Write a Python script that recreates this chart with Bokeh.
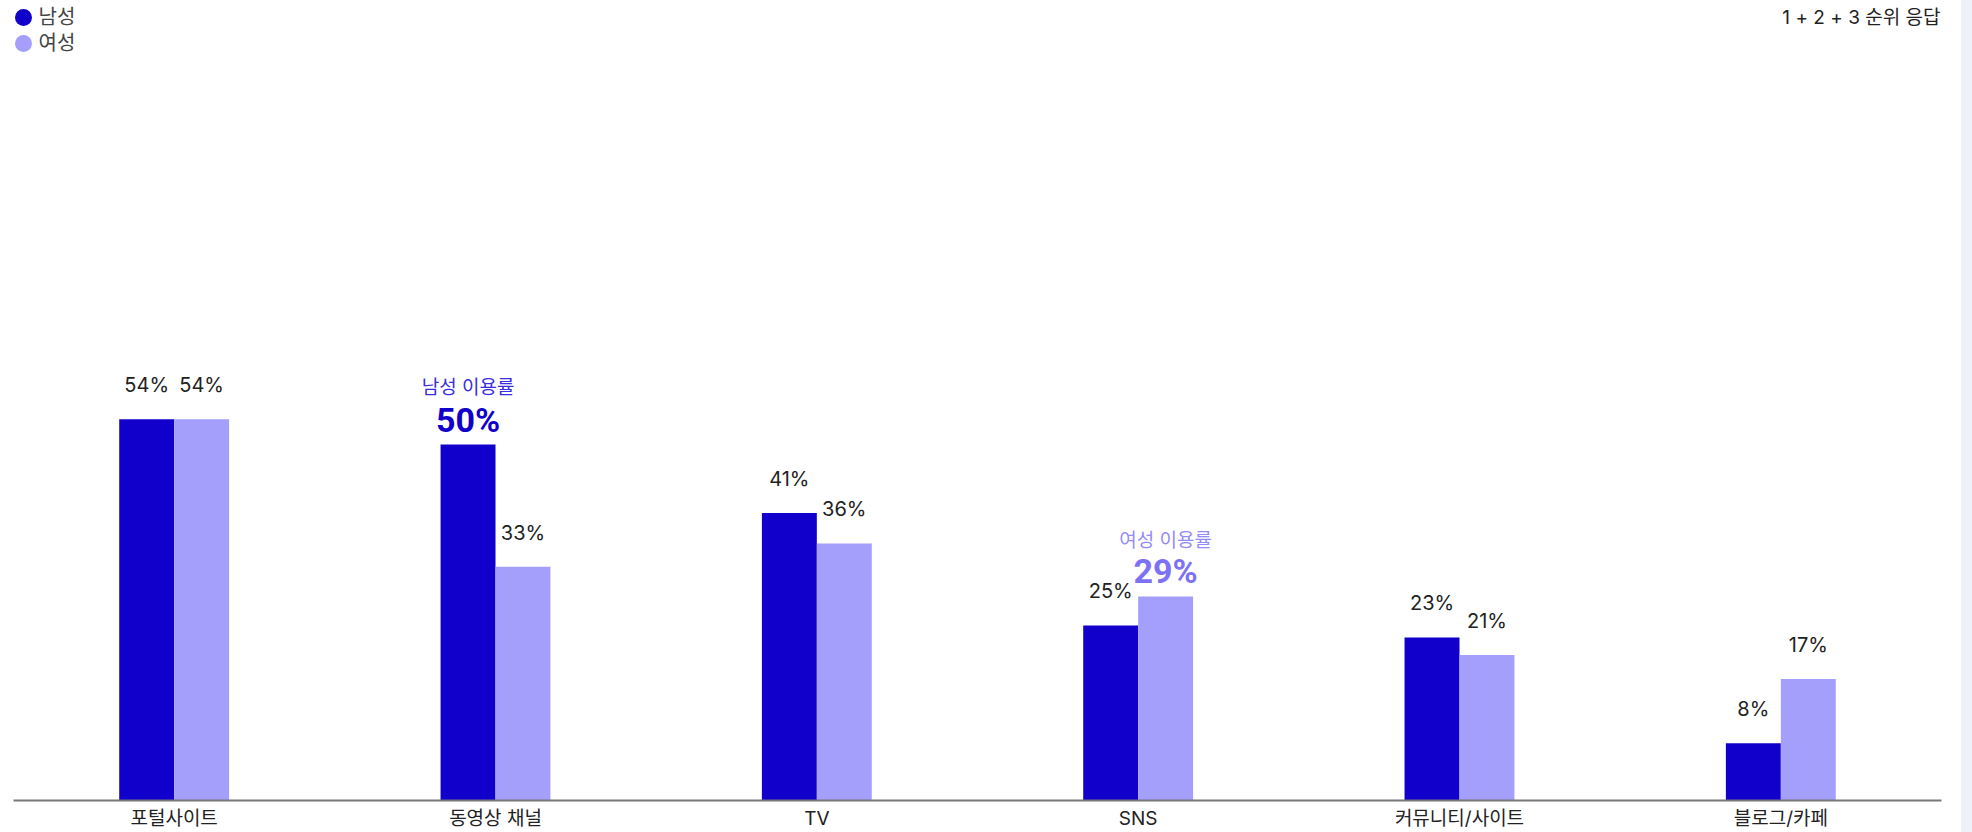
from bokeh.plotting import figure
from bokeh.models import (ColumnDataSource, Range1d, Spacer, FixedTicker)
from bokeh.layouts import row
from bokeh.transform import dodge
from bokeh.core.properties import value
from bokeh.embed import file_html
from bokeh.resources import INLINE

# ---- data ----
categories = ["포털사이트", "동영상 채널", "TV", "SNS", "커뮤니티/사이트", "블로그/카페"]
male = [54.0, 50.4, 40.7, 24.8, 23.1, 8.1]
female = [54.0, 33.1, 36.4, 28.9, 20.6, 17.2]
series_names = ["남성", "여성"]
male_highlight = "동영상 채널"
female_highlight = "SNS"
male_note = "남성 이용률"
female_note = "여성 이용률"
note_top_right = "1 + 2 + 3 순위 응답"

# ---- style ----
MALE_C = "#1100CC"
FEMALE_C = "#A59FFC"
MALE_NOTE_C = "#3A2EE0"
FEMALE_NOTE_C = "#948BF7"
FEMALE_BIG_C = "#7D72F4"
TEXT_C = "#222222"
FONT = "Inter, Noto Sans CJK KR"
BOLD_FONT = "Roboto, Noto Sans CJK KR"

W, H = 1961, 832
ML, MR, MT, MB = 13, 20, 0, 31
FW, FH = W - ML - MR, H - MT - MB
BW = 0.171
OFF = BW / 2

def lab(v):
    return f"{round(v)}%"

pos = [i + 0.5 for i in range(len(categories))]
mi = categories.index(male_highlight)
fi = categories.index(female_highlight)
m_norm = [i for i in range(len(categories)) if i != mi]
f_norm = [i for i in range(len(categories)) if i != fi]

src = ColumnDataSource(dict(x=pos, male=male, female=female))
src_m = ColumnDataSource(dict(x=[pos[i] for i in m_norm], v=[male[i] for i in m_norm],
                              t=[lab(male[i]) for i in m_norm]))
src_f = ColumnDataSource(dict(x=[pos[i] for i in f_norm], v=[female[i] for i in f_norm],
                              t=[lab(female[i]) for i in f_norm]))
src_mh = ColumnDataSource(dict(x=[pos[mi]], v=[male[mi]], t=[lab(male[mi])], n=[male_note]))
src_fh = ColumnDataSource(dict(x=[pos[fi]], v=[female[fi]], t=[lab(female[fi])], n=[female_note]))

p = figure(x_range=Range1d(0, len(categories)),
           y_range=Range1d(0, FH / 7.07),
           width=W, height=H, output_backend="svg", toolbar_location=None,
           min_border_left=ML, min_border_right=MR, min_border_top=MT, min_border_bottom=MB)
p.extra_x_ranges = {"px": Range1d(0, FW)}
p.extra_y_ranges = {"px": Range1d(FH, 0)}
p.outline_line_color = None
p.xgrid.grid_line_color = None
p.ygrid.grid_line_color = None
p.yaxis.visible = False
p.background_fill_color = "white"
p.border_fill_color = "white"

ax = p.xaxis[0]
ax.ticker = FixedTicker(ticks=pos)
ax.major_label_overrides = {x: c for x, c in zip(pos, categories)}
ax.axis_line_color = "#777777"
ax.axis_line_width = 2
ax.major_tick_line_color = None
ax.minor_tick_line_color = None
ax.major_tick_out = 0
ax.major_tick_in = 0
ax.major_label_standoff = 6
ax.major_label_text_font = FONT
ax.major_label_text_font_size = "19px"
ax.major_label_text_color = TEXT_C

p.vbar(x=dodge("x", -OFF), top="male", width=BW, bottom=0,
       source=src, fill_color=MALE_C, line_color=None)
p.vbar(x=dodge("x", OFF), top="female", width=BW, bottom=0,
       source=src, fill_color=FEMALE_C, line_color=None)

common = dict(text_align="center", text_baseline="middle")
p.text(x=dodge("x", -OFF), y="v", text="t", source=src_m,
       y_offset=-34, text_font=value(FONT), text_font_size="20px",
       text_color=TEXT_C, **common)
p.text(x=dodge("x", OFF), y="v", text="t", source=src_f,
       y_offset=-34, text_font=value(FONT), text_font_size="20px",
       text_color=TEXT_C, **common)

# highlighted annotations
p.text(x=dodge("x", -OFF), y="v", text="t", source=src_mh,
       y_offset=-25, text_font=value(BOLD_FONT), text_font_size="34px",
       text_font_style="bold", text_color=MALE_C, **common)
p.text(x=dodge("x", -OFF), y="v", text="n", source=src_mh,
       y_offset=-57, text_font=value(FONT), text_font_size="19px",
       text_color=MALE_NOTE_C, **common)
p.text(x=dodge("x", OFF), y="v", text="t", source=src_fh,
       y_offset=-25, text_font=value(BOLD_FONT), text_font_size="34px",
       text_font_style="bold", text_color=FEMALE_BIG_C, **common)
p.text(x=dodge("x", OFF), y="v", text="n", source=src_fh,
       y_offset=-56, text_font=value(FONT), text_font_size="19px",
       text_color=FEMALE_NOTE_C, **common)

# legend (drawn in pixel-space extra ranges)
p.scatter(x=[10, 10], y=[17, 43], size=17, marker="circle",
          fill_color=[MALE_C, FEMALE_C], line_color=None,
          x_range_name="px", y_range_name="px")
p.text(x=[25, 25], y=[17, 43], text=series_names, text_font=value(FONT),
       text_font_size="20px", text_color="#444444", text_baseline="middle",
       text_align="left", x_range_name="px", y_range_name="px")
p.text(x=[FW - 1], y=[17], text=[note_top_right], text_font=value(FONT),
       text_font_size="19px", text_color=TEXT_C, text_baseline="middle",
       text_align="right", x_range_name="px", y_range_name="px")

strip = Spacer(width=1972 - W, height=H, styles={"background-color": "#EEF1FA"})
layout = row(p, strip)

open("out.html", "w").write(file_html(layout, INLINE))
